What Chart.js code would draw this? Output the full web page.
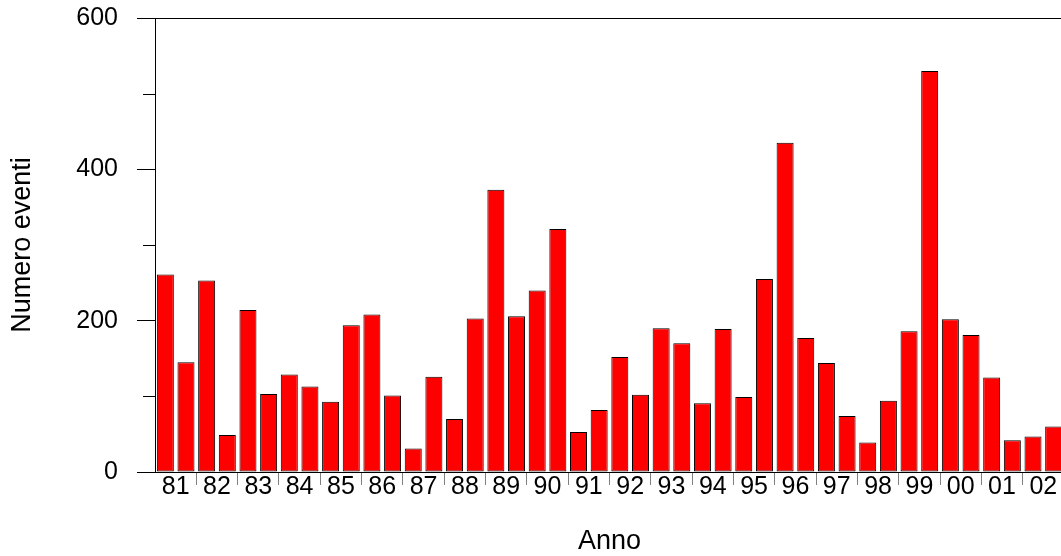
<!DOCTYPE html>
<html>
<head>
<meta charset="utf-8">
<script src="https://cdn.jsdelivr.net/npm/chart.js@4/dist/chart.umd.min.js"></script>
<style>
  html, body { margin: 0; padding: 0; background: #fff; overflow: hidden; }
  #wrap { width: 1064px; height: 556px; }
</style>
</head>
<body>
<div id="wrap"><canvas id="grafico" width="1064" height="556"></canvas></div>
<script>
// Eventi registrati per anno: due barre per ogni anno
const anni = ['81','82','83','84','85','86','87','88','89','90','91','92','93','94','95','96','97','98','99','00','01','02'];
const primoSemestre   = [261, 253, 214, 129,  93, 208,  31,  70, 373, 240,  53, 152, 190,  91,  99, 435, 144,  39, 186, 202, 125,  47];
const secondoSemestre = [145,  49, 103, 113, 194, 101, 126, 203, 206, 321,  82, 102, 170, 189, 255, 177,  74,  94, 530, 181,  42,  60];
const tickY = [0, 200, 400, 600];

Chart.defaults.font.family = "'Liberation Sans', Arial, sans-serif";
Chart.defaults.color = '#000';

const barStyle = {
  backgroundColor: '#ff0000',
  borderColor: '#000',
  borderWidth: 1,
  borderSkipped: false,
  barPercentage: 0.823,
  categoryPercentage: 1.0
};

// Tacche secondarie (senza etichetta) sull'asse verticale, più corte delle principali
const tacchePiccole = {
  id: 'tacchePiccole',
  afterDraw(chart) {
    const s = chart.scales.y;
    const ctx = chart.ctx;
    ctx.save();
    ctx.strokeStyle = '#000';
    ctx.lineWidth = 1;
    s.ticks.forEach(t => {
      if (tickY.includes(t.value)) return;
      const py = Math.round(s.getPixelForValue(t.value)) + 0.5;
      ctx.beginPath();
      ctx.moveTo(s.right - 12, py);
      ctx.lineTo(s.right, py);
      ctx.stroke();
    });
    ctx.restore();
  }
};

new Chart(document.getElementById('grafico'), {
  type: 'bar',
  data: {
    labels: anni,
    datasets: [
      Object.assign({ label: 'I', data: primoSemestre }, barStyle),
      Object.assign({ label: 'II', data: secondoSemestre }, barStyle)
    ]
  },
  options: {
    responsive: false,
    animation: false,
    layout: { padding: 0 },
    plugins: { legend: { display: false }, tooltip: { enabled: false } },
    scales: {
      x: {
        type: 'category',
        position: 'bottom',
        offset: true,
        grid: {
          offset: true,
          drawOnChartArea: false,
          tickLength: 13,
          tickColor: c => (c.index === 0 ? 'rgba(0,0,0,0)' : '#808080')
        },
        border: { color: '#000', width: 1 },
        ticks: { font: { size: 25 }, padding: -13, maxRotation: 0, autoSkip: false },
        title: {
          display: true,
          text: 'Anno',
          font: { size: 27, lineHeight: 1 },
          padding: { top: 0, bottom: 1 }
        },
        afterFit: s => { s.height = 84; s.paddingLeft = 0; s.paddingRight = 0; }
      },
      xTop: {
        type: 'linear',
        position: 'top',
        min: 0,
        max: 1,
        ticks: { display: false },
        grid: { drawTicks: false, drawOnChartArea: false },
        border: { color: '#000', width: 1 },
        afterFit: s => { s.height = 18; s.paddingLeft = 0; s.paddingRight = 0; }
      },
      y: {
        min: 0,
        max: 600,
        ticks: {
          stepSize: 100,
          font: { size: 25 },
          padding: 19,
          callback: v => (tickY.includes(v) ? String(v) : '')
        },
        grid: {
          drawOnChartArea: false,
          tickLength: 18,
          tickColor: c => (c.tick && tickY.includes(c.tick.value) ? '#000' : 'rgba(0,0,0,0)')
        },
        border: { color: '#000', width: 1 },
        title: {
          display: true,
          text: 'Numero eventi',
          font: { size: 27, lineHeight: 1 },
          padding: { top: 9, bottom: 0 }
        },
        afterFit: s => { s.width = 155; s.paddingTop = 0; s.paddingBottom = 0; }
      }
    }
  },
  plugins: [tacchePiccole]
});
</script>
</body>
</html>
